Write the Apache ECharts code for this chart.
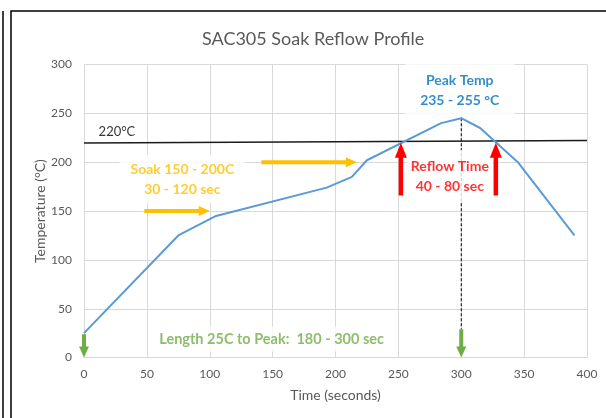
<!DOCTYPE html>
<html>
<head>
<meta charset="utf-8">
<script src="https://cdn.jsdelivr.net/npm/echarts@6/dist/echarts.min.js"></script>
<style>
  html, body { margin: 0; padding: 0; background: #fff; }
  #chart { width: 606px; height: 418px; }
</style>
</head>
<body>
<div id="chart"></div>
<script>
// reflow profile
var timeSec = [0, 75, 105, 193, 213, 225, 284, 300, 315, 345, 390];
var tempC = [25, 125, 145, 174, 185, 202, 240, 245, 235, 200, 125];

// 220 line (slightly tilted in the original) and peak dashed line
var liquidusX = [0, 400];
var liquidusY = [219.6, 222.3];
var peakLineX = [300, 300];
var peakLineY = [245, 29];

// arrows: x1, y1, x2, y2
var orangeArrows = [[48, 150, 100, 150], [141, 200, 217, 200]];
var redArrows = [[252, 166, 252, 220], [327.5, 166, 327.5, 220]];
var greenArrows = [[0, 24, 0, 0], [300, 29, 300, 0]];

// annotations
var noteText = ['220°C', 'Soak 150 - 200C\n30 - 120 sec', 'Reflow Time\n40 - 80 sec',
  'Peak Temp\n235 - 255 °C', 'Length 25C to Peak:  180 - 300 sec'];
var noteX = [26.2, 78.2, 290.9, 298.8, 148.8];
var noteY = [230.6, 182.8, 185.8, 273.8, 19.0];

var font = 'Lato';

function makeArrow(color, shaft, head, headLen) {
  return function (params, api) {
    var p1 = api.coord([api.value(0), api.value(1)]);
    var p2 = api.coord([api.value(2), api.value(3)]);
    var dx = p2[0] - p1[0], dy = p2[1] - p1[1];
    var len = Math.sqrt(dx * dx + dy * dy);
    var ux = dx / len, uy = dy / len;
    var nx = -uy, ny = ux;
    var sw = shaft / 2, hw = head / 2;
    var bx = p2[0] - ux * headLen, by = p2[1] - uy * headLen;
    return {
      type: 'polygon',
      shape: {
        points: [
          [p1[0] + nx * sw, p1[1] + ny * sw],
          [bx + nx * sw, by + ny * sw],
          [bx + nx * hw, by + ny * hw],
          [p2[0], p2[1]],
          [bx - nx * hw, by - ny * hw],
          [bx - nx * sw, by - ny * sw],
          [p1[0] - nx * sw, p1[1] - ny * sw]
        ]
      },
      style: { fill: color }
    };
  };
}

function zip(a, b) {
  var out = [];
  for (var i = 0; i < a.length; i++) out.push([a[i], b[i]]);
  return out;
}

var noteStyle = [
  { color: '#000', fontSize: 13 },
  { color: '#FFC000', fontSize: 14, fontWeight: 'bold', lineHeight: 20, backgroundColor: '#fff', padding: [6, 11, 2, 11] },
  { color: '#FF0000', fontSize: 14, fontWeight: 'bold', lineHeight: 20, backgroundColor: '#fff', padding: [4, 4, 8, 4] },
  { color: '#0070C0', fontSize: 14, fontWeight: 'bold', lineHeight: 20, backgroundColor: '#fff', padding: [8, 15, 8, 15] },
  { color: '#70AD47', fontSize: 14.5, fontWeight: 'bold', lineHeight: 18, backgroundColor: '#fff', padding: [6, 10, 1, 11] }
];

var notes = [];
for (var i = 0; i < noteText.length; i++) {
  var lab = { show: true, position: 'inside', formatter: noteText[i], fontFamily: font };
  for (var k in noteStyle[i]) lab[k] = noteStyle[i][k];
  notes.push({ value: [noteX[i], noteY[i]], label: lab });
}

var chart = echarts.init(document.getElementById('chart'));
chart.setOption({
  animation: false,
  textStyle: { fontFamily: font },
  title: {
    text: 'SAC305 Soak Reflow Profile',
    left: 197,
    top: 25,
    textStyle: { color: '#595959', fontSize: 18, fontWeight: 'normal', fontFamily: font }
  },
  graphic: [
    { type: 'line', shape: { x1: 3, y1: 11, x2: 3, y2: 418 }, style: { stroke: '#000', lineWidth: 1.5 } },
    { type: 'polyline', shape: { points: [[11, 418], [11, 11], [606, 11]] }, style: { stroke: '#000', lineWidth: 1.5, fill: null } }
  ],
  grid: { left: 84, right: 19, top: 64.5, bottom: 60.4 },
  xAxis: {
    type: 'value', min: 0, max: 400, interval: 50,
    name: 'Time (seconds)', nameLocation: 'middle', nameGap: 31,
    nameTextStyle: { color: '#595959', fontSize: 14, fontFamily: font },
    axisLine: { show: true, lineStyle: { color: '#D9D9D9' } },
    axisTick: { show: false },
    axisLabel: { color: '#595959', fontSize: 12, margin: 11 },
    splitLine: { lineStyle: { color: '#D9D9D9' } }
  },
  yAxis: {
    type: 'value', min: 0, max: 300, interval: 50,
    name: 'Temperature (°C)', nameLocation: 'middle', nameGap: 37, nameMoveOverlap: false,
    nameTextStyle: { color: '#595959', fontSize: 14, fontFamily: font },
    axisLine: { show: false },
    axisTick: { show: false },
    axisLabel: { color: '#595959', fontSize: 12, margin: 12 },
    splitLine: { lineStyle: { color: '#D9D9D9' } }
  },
  series: [
    {
      type: 'line', z: 2, silent: true, symbol: 'none',
      data: zip(peakLineX, peakLineY),
      lineStyle: { color: '#000', width: 1, type: [3, 2] }
    },
    {
      type: 'scatter', z: 3, silent: true, symbolSize: 1,
      itemStyle: { color: 'rgba(0,0,0,0)' },
      data: notes
    },
    {
      type: 'line', z: 4, silent: true, symbol: 'none',
      data: zip(liquidusX, liquidusY),
      lineStyle: { color: '#1a1a1a', width: 1.5 }
    },
    {
      type: 'line', z: 5, silent: true, symbol: 'none',
      data: zip(timeSec, tempC),
      lineStyle: { color: '#5B9BD5', width: 2 }
    },
    { type: 'custom', z: 6, silent: true, renderItem: makeArrow('#FFC000', 4, 10, 11), data: orangeArrows, encode: { x: [0, 2], y: [1, 3] } },
    { type: 'custom', z: 6, silent: true, renderItem: makeArrow('#FF0000', 4.5, 12, 15), data: redArrows, encode: { x: [0, 2], y: [1, 3] } },
    { type: 'custom', z: 6, silent: true, renderItem: makeArrow('#70AD47', 4, 10, 11), data: greenArrows, encode: { x: [0, 2], y: [1, 3] } }
  ]
});
</script>
</body>
</html>
